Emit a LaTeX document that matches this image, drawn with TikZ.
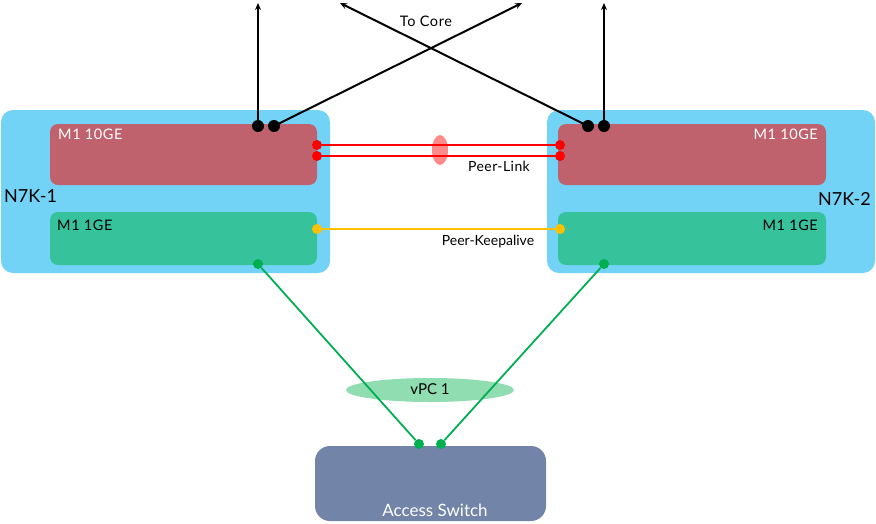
\documentclass[tikz,border=0pt]{standalone}
\usepackage{fontspec}
\setmainfont{Lato}
\usetikzlibrary{arrows.meta,shapes.geometric}
\definecolor{chassis}{HTML}{73D3F7}
\definecolor{redcard}{HTML}{BF626E}
\definecolor{greencard}{HTML}{36C29B}
\definecolor{accessc}{HTML}{7284A8}
\definecolor{plred}{HTML}{FF0000}
\definecolor{plell}{HTML}{FF8A8A}
\definecolor{kayel}{HTML}{FFC000}
\definecolor{vpcgreen}{HTML}{00B050}
\definecolor{vpcell}{HTML}{8FDDB0}
\tikzset{
  chassisbox/.style={fill=chassis, draw=none, rounded corners=12pt, inner sep=0pt, outer sep=0pt, minimum width=#1, minimum height=163pt},
  cardbox/.style={draw=none, rounded corners=8pt, inner sep=0pt, outer sep=0pt, minimum width=267pt},
  dotnode/.style={circle, fill=#1, inner sep=0pt, minimum size=10pt},
  bigdot/.style={circle, fill=black, inner sep=0pt, minimum size=12pt},
  lbl/.style={font=\fontsize{14}{16}\selectfont, inner sep=0pt},
  cardlbl/.style={font=\fontsize{14.5}{16}\selectfont\addfontfeatures{LetterSpace=4}, inner sep=0pt},
  corearrow/.style={line width=2pt, -{Stealth[length=7pt,width=6pt]}},
}
\begin{document}
\begin{tikzpicture}[x=1pt,y=-1pt]
\useasboundingbox (0,0) rectangle (876,523);
% chassis
\node[chassisbox=329pt] (n1) at (165.5,191.5) {};
\node[chassisbox=328pt] (n2) at (711,191.5) {};
% cards
\node[cardbox, fill=redcard, minimum height=61pt] (r1) at (183.5,154.5) {};
\node[cardbox, fill=greencard, minimum height=53pt] (g1) at (183.5,238.5) {};
\node[cardbox, fill=redcard, minimum height=61pt, minimum width=268pt] (r2) at (692,154.5) {};
\node[cardbox, fill=greencard, minimum height=53pt, minimum width=268pt] (g2) at (692,238.5) {};
% access switch
\node[fill=accessc, rounded corners=15pt, inner sep=0pt, minimum width=231pt, minimum height=75pt] (acc) at (430.5,483.5) {};
% ellipses
\node[ellipse, fill=plell, inner sep=0pt, minimum width=16pt, minimum height=30pt] (ple) at (440,150) {};
\node[ellipse, fill=vpcell, inner sep=0pt, minimum width=168pt, minimum height=24pt] (vpce) at (430,390) {};
% texts
\node[lbl, anchor=west, font=\fontsize{18}{20}\selectfont] (t1) at (4,196) {N7K-1};
\node[lbl, anchor=east, font=\fontsize{18}{20}\selectfont] (t2) at (871,199) {N7K-2};
\node[cardlbl, anchor=west, white] (t3) at (58,134) {M1 10GE};
\node[cardlbl, anchor=east, white] (t4) at (818,134) {M1 10GE};
\node[cardlbl, anchor=west] (t5) at (57,225) {M1 1GE};
\node[cardlbl, anchor=east] (t6) at (818,225) {M1 1GE};
\node[lbl, font=\fontsize{14.5}{16}\selectfont\addfontfeatures{LetterSpace=4}] (t7) at (426,21) {To Core};
\node[lbl, font=\fontsize{14}{16}\selectfont\addfontfeatures{LetterSpace=3}] (t8) at (499,166) {Peer-Link};
\node[lbl] (t9) at (488,242) {Peer-Keepalive};
\node[lbl, font=\fontsize{15}{17}\selectfont] (t10) at (430,389) {vPC 1};
\node[lbl, white, font=\fontsize{17}{19}\selectfont] (t11) at (435,510) {Access Switch};
% coordinates for arrow ends
\coordinate (c1) at (258,3);
\coordinate (c2) at (522,3);
\coordinate (c3) at (340,3);
\coordinate (c4) at (604,3);
% black dots and arrows
\node[bigdot] (b1) at (258,126) {};
\node[bigdot] (b2) at (274,126) {};
\node[bigdot] (b3) at (588,126) {};
\node[bigdot] (b4) at (604,126) {};
\draw[corearrow] (b1.center) -- (c1);
\draw[corearrow] (b2.center) -- (c2);
\draw[corearrow] (b3.center) -- (c3);
\draw[corearrow] (b4.center) -- (c4);
% peer link
\node[dotnode=plred] (p1) at (317,145) {};
\node[dotnode=plred] (p2) at (317,156) {};
\node[dotnode=plred] (p3) at (560,145) {};
\node[dotnode=plred] (p4) at (560,156) {};
\draw[plred, line width=1.8pt] (p1) -- (p3);
\draw[plred, line width=1.8pt] (p2) -- (p4);
% keepalive
\node[dotnode=kayel] (k1) at (317,229) {};
\node[dotnode=kayel] (k2) at (560,229) {};
\draw[kayel, line width=1.8pt] (k1) -- (k2);
% vpc links
\node[dotnode=vpcgreen] (v1) at (258,264) {};
\node[dotnode=vpcgreen] (v2) at (604,264) {};
\node[dotnode=vpcgreen] (v3) at (419,444) {};
\node[dotnode=vpcgreen] (v4) at (441,444) {};
\draw[vpcgreen, line width=1.8pt] (v1) -- (v3);
\draw[vpcgreen, line width=1.8pt] (v2) -- (v4);
\end{tikzpicture}
\end{document}
